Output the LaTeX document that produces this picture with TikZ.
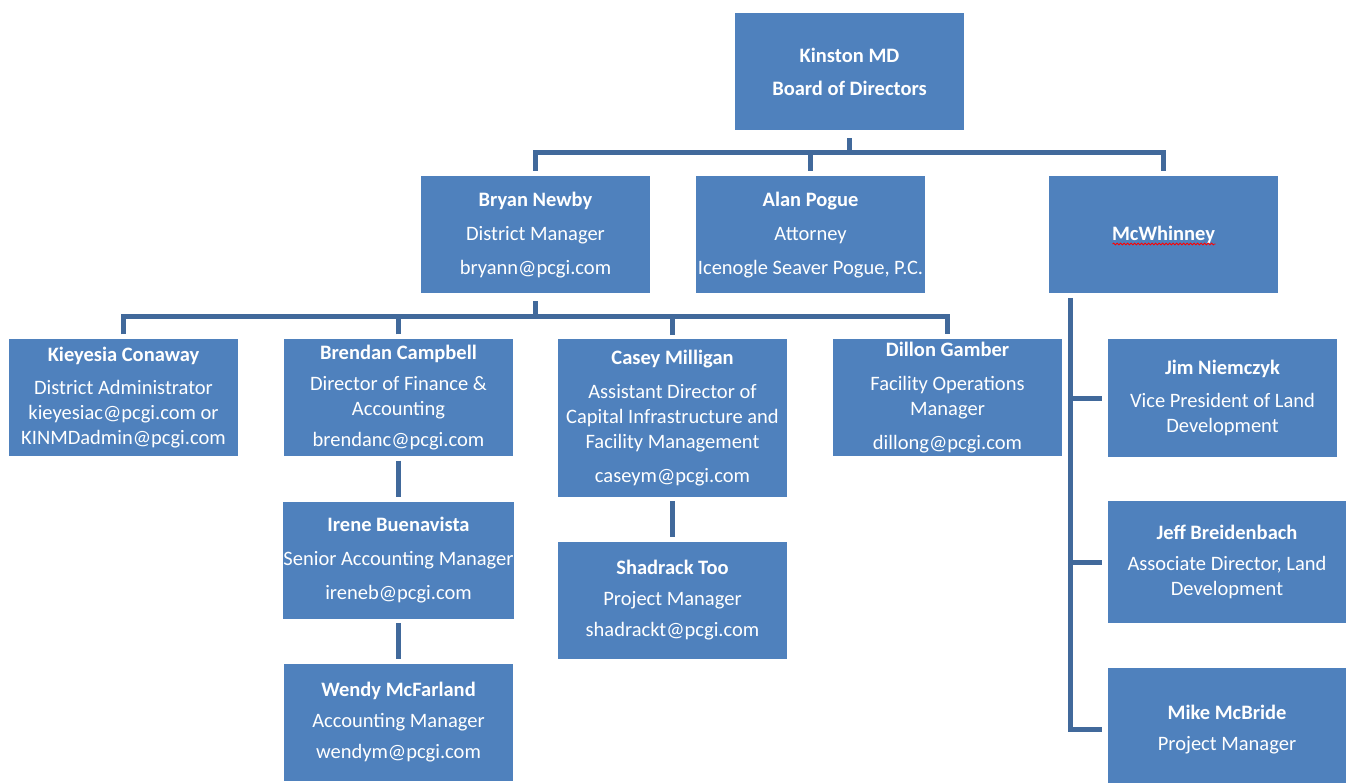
\documentclass[tikz,border=0pt]{standalone}
\usepackage{fontspec}
\setmainfont{Carlito}
\usetikzlibrary{decorations.pathmorphing}
\definecolor{boxblue}{HTML}{4F81BD}
\definecolor{lineblue}{HTML}{41699B}

\begin{document}
\begin{tikzpicture}[x=1pt,y=1pt]
\tikzstyle{every node}+=[inner sep=0pt]
\tikzstyle{card}=[fill=boxblue, text=white, align=center, minimum width=229pt, minimum height=117pt, font=\fontsize{20.5}{25.3}\selectfont]
\tikzstyle{link}=[draw=lineblue, line width=5pt]
\useasboundingbox (0,0) rectangle (1346,-783);
% top level
\node[card] (board) at (849.5,-72) {\textbf{Kinston MD}\\[8pt]\textbf{Board of Directors}};
\node[card] (bryan) at (535.5,-235) {\textbf{Bryan Newby}\\[8.5pt]District Manager\\[8.5pt]bryann@pcgi.com};
\node[card] (alan) at (810.5,-235) {\textbf{Alan Pogue}\\[8.5pt]Attorney\\[8.5pt]Icenogle Seaver Pogue, P.C.};
\node[card] (mcw) at (1163.5,-235) {\textbf{McWhinney}};
\draw[red, line width=0.8pt, decorate, decoration={snake, amplitude=0.9pt, segment length=3.5pt}] ([xshift=-51pt,yshift=-9pt]mcw.center) -- ([xshift=52pt,yshift=-9pt]mcw.center);
% district staff
\node[card] (kiey) at (123.5,-397.5) {\textbf{Kieyesia Conaway}\\[7.5pt]District Administrator\\kieyesiac@pcgi.com or\\KINMDadmin@pcgi.com};
\node[card] (brendan) at (398.5,-397.5) {\textbf{Brendan Campbell}\\[5.5pt]Director of Finance \&\\Accounting\\[5.5pt]brendanc@pcgi.com};
\node[card, minimum height=157pt] (casey) at (672.5,-418) {\textbf{Casey Milligan}\\[8.5pt]Assistant Director of\\Capital Infrastructure and\\Facility Management\\[8.5pt]caseym@pcgi.com};
\node[card] (dillon) at (947.5,-397.5) {\textbf{Dillon Gamber}\\[8.5pt]Facility Operations\\Manager\\[8.5pt]dillong@pcgi.com};
\node[card] (irene) at (398.5,-560) {\textbf{Irene Buenavista}\\[8.5pt]Senior Accounting Manager\\[8.5pt]ireneb@pcgi.com};
\node[card] (wendy) at (398.5,-722) {\textbf{Wendy McFarland}\\[6pt]Accounting Manager\\[6pt]wendym@pcgi.com};
\node[card] (shadrack) at (672.5,-600) {\textbf{Shadrack Too}\\[6pt]Project Manager\\[6pt]shadrackt@pcgi.com};
% developer staff
\node[card] (jim) at (1222.5,-398) {\textbf{Jim Niemczyk}\\[7pt]Vice President of Land\\Development};
\node[card, minimum width=238pt, minimum height=122pt] (jeff) at (1227,-562) {\textbf{Jeff Breidenbach}\\[6pt]Associate Director, Land\\Development};
\node[card, minimum width=238pt, minimum height=123pt] (mike) at (1227,-729.5) {\textbf{Mike McBride}\\[6pt]Project Manager};
% connectors
\coordinate (top bus) at (0,-152.5);
\draw[link] ([yshift=-7.5pt]board.south) -- (board.south |- top bus);
\draw[link] ([yshift=5.5pt]bryan.north) |- (top bus -| mcw.north) -- ([yshift=5.5pt]mcw.north);
\draw[link] ([yshift=5.5pt]alan.north) -- (alan.north |- top bus);
\coordinate (mid bus) at (0,-317);
\draw[link] ([yshift=-7.5pt]bryan.south) -- (bryan.south |- mid bus);
\draw[link] ([yshift=4.5pt]kiey.north) |- (mid bus -| dillon.north) -- ([yshift=4.5pt]dillon.north);
\draw[link] ([yshift=4.5pt]brendan.north) -- (brendan.north |- mid bus);
\draw[link] ([yshift=4.5pt]casey.north) -- (casey.north |- mid bus);
\draw[link] ([yshift=-4.5pt]brendan.south) -- ([yshift=4.5pt]irene.north);
\draw[link] ([yshift=-4.5pt]irene.south) -- ([yshift=4.5pt]wendy.north);
\draw[link] ([yshift=-4.5pt]casey.south) -- ([yshift=4.5pt]shadrack.north);
\coordinate (spine) at (1070,-298);
\draw[link] (spine) |- ([xshift=-6pt]mike.west);
\draw[link] (spine |- jim.west) -- ([xshift=-6pt]jim.west);
\draw[link] (spine |- jeff.west) -- ([xshift=-6pt]jeff.west);
\end{tikzpicture}
\end{document}
